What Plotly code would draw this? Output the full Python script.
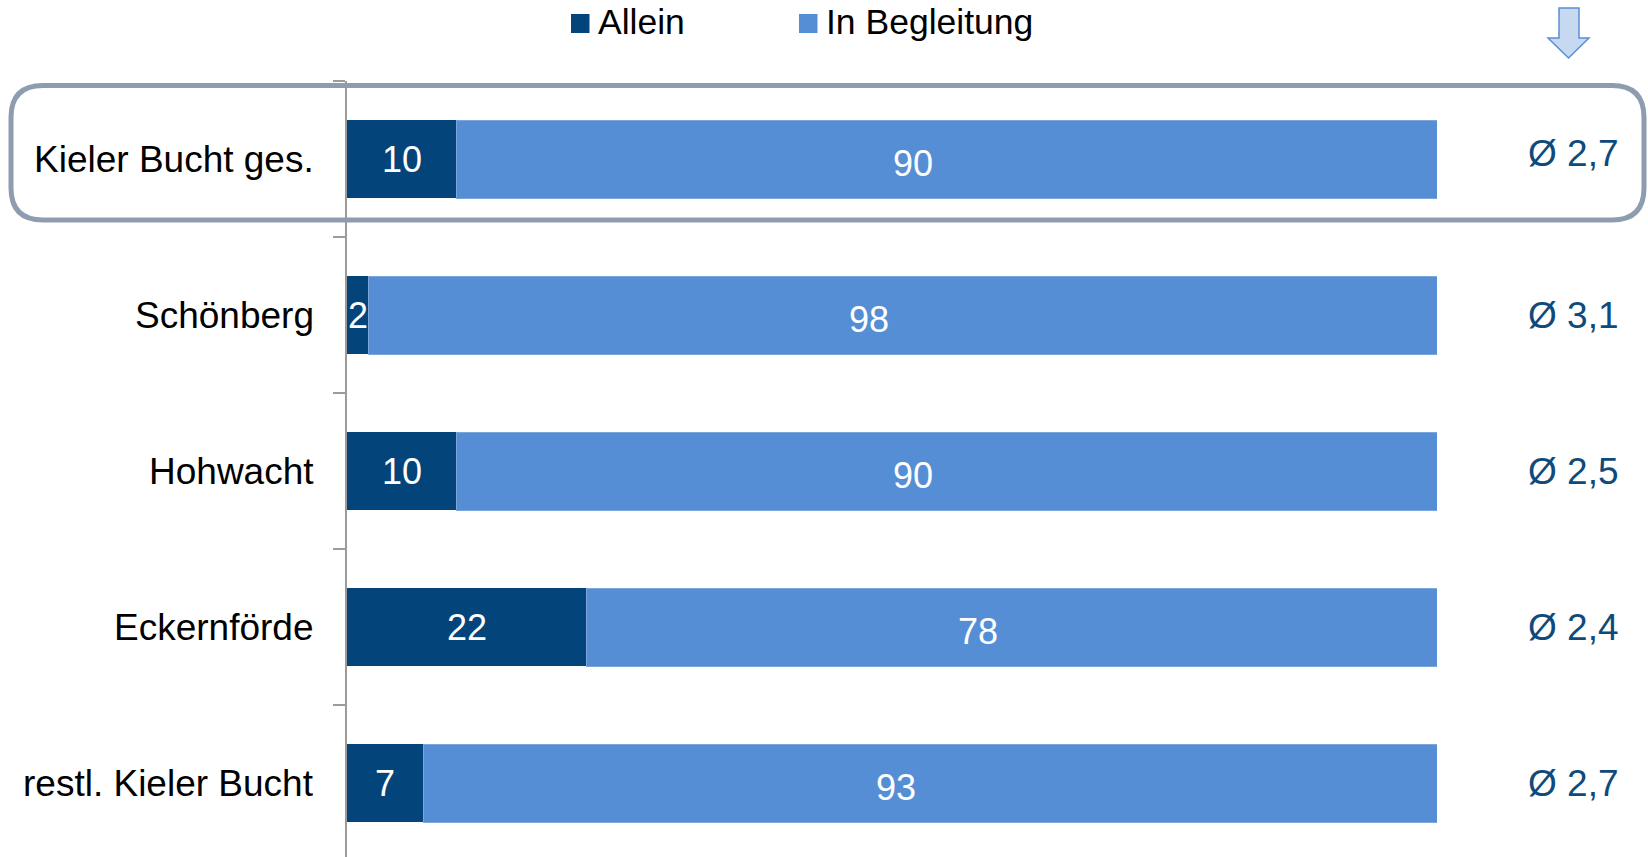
import plotly.graph_objects as go

# ---- data -------------------------------------------------------------
categories = ["Kieler Bucht ges.", "Schönberg", "Hohwacht", "Eckernförde", "restl. Kieler Bucht"]
allein = [10, 2, 10, 22, 7]
begleitung = [90, 98, 90, 78, 93]
avg_persons = [2.7, 3.1, 2.5, 2.4, 2.7]
series_names = ["Allein", "In Begleitung"]

# ---- geometry / style --------------------------------------------------
W, H = 1648, 857
M_L, M_R, M_T, M_B = 347, 211, 81, 0
PLOT_W = W - M_L - M_R
PLOT_H = H - M_T - M_B
ROW_PX = 156

DARK = "#03457A"
LIGHT = "#558ED5"
AXIS_GREY = "#9B9B9B"
BOX_GREY = "#8E9CB0"
AVG_BLUE = "#0E4A7C"
FONT = "Liberation Sans, Arial, sans-serif"


def px_x(px):
    return (px - M_L) / PLOT_W


def px_y(py):
    return 1 - (py - M_T) / PLOT_H


def pt(x, y):
    return f"{px_x(x):.5f},{px_y(y):.5f}"


def rounded_rect(x0, y0, x1, y1, r):
    return (
        f"M{pt(x0 + r, y0)} L{pt(x1 - r, y0)} Q{pt(x1, y0)} {pt(x1, y0 + r)} "
        f"L{pt(x1, y1 - r)} Q{pt(x1, y1)} {pt(x1 - r, y1)} "
        f"L{pt(x0 + r, y1)} Q{pt(x0, y1)} {pt(x0, y1 - r)} "
        f"L{pt(x0, y0 + r)} Q{pt(x0, y0)} {pt(x0 + r, y0)} Z"
    )


def polygon(points):
    first, *rest = points
    return f"M{pt(*first)} " + " ".join(f"L{pt(*p)}" for p in rest) + " Z"


rows = list(range(len(categories)))

fig = go.Figure()
fig.add_bar(
    y=rows, x=allein, orientation="h", name=series_names[0],
    marker=dict(color=DARK, line=dict(width=0)), hoverinfo="x+name",
)
fig.add_bar(
    y=rows, x=begleitung, orientation="h", name=series_names[1],
    marker=dict(color=LIGHT, line=dict(color="#7DA6DD", width=1)), hoverinfo="x+name",
)

annotations = []
for i in rows:
    # category names left of the axis
    annotations.append(dict(
        x=px_x(316), xref="paper", y=i, yref="y", text=categories[i],
        xanchor="right", yanchor="middle", showarrow=False,
        font=dict(family=FONT, size=37, color="black"),
    ))
    # segment values
    annotations.append(dict(
        x=allein[i] / 2, xref="x", y=i, yref="y", text=str(allein[i]),
        xanchor="center", yanchor="middle", showarrow=False,
        font=dict(family=FONT, size=36, color="white"),
    ))
    annotations.append(dict(
        x=allein[i] + begleitung[i] / 2, xref="x", y=i, yref="y", text=str(begleitung[i]),
        xanchor="center", yanchor="middle", showarrow=False, xshift=-34, yshift=-4,
        font=dict(family=FONT, size=36, color="white"),
    ))
    # average group size
    annotations.append(dict(
        x=px_x(1621), xref="paper", y=i, yref="y",
        text="Ø " + f"{avg_persons[i]:.1f}".replace(".", ","),
        xanchor="right", yanchor="middle", showarrow=False,
        yshift=6 if i == 0 else 0,
        font=dict(family=FONT, size=37, color=AVG_BLUE),
    ))

# legend drawn by hand
legend_items = [(series_names[0], DARK, 571), (series_names[1], LIGHT, 799)]
shapes = []
for name, color, lx in legend_items:
    shapes.append(dict(
        type="rect", xref="paper", yref="paper",
        x0=px_x(lx), x1=px_x(lx + 18.5), y0=px_y(14), y1=px_y(33),
        fillcolor=color, line=dict(width=0),
    ))
    annotations.append(dict(
        x=px_x(lx + 25), xref="paper", y=px_y(22), yref="paper", text=name,
        xanchor="left", yanchor="middle", showarrow=False,
        font=dict(family=FONT, size=35.5, color="black"),
    ))

# highlight frame around the total row
shapes.append(dict(
    type="path", xref="paper", yref="paper",
    path=rounded_rect(11, 85.5, 1644, 220, 32),
    line=dict(color=BOX_GREY, width=5), fillcolor="rgba(0,0,0,0)", layer="above",
))

# downward arrow above the averages column
shapes.append(dict(
    type="path", xref="paper", yref="paper",
    path=polygon([(1559, 8), (1579, 8), (1579, 38), (1589, 38),
                  (1568.5, 58), (1548, 38), (1559, 38)]),
    line=dict(color="#5A8FD6", width=1.5), fillcolor="#C6D9F1",
))

fig.update_layout(
    width=W, height=H,
    margin=dict(l=M_L, r=M_R, t=M_T, b=M_B, autoexpand=False),
    barmode="stack", bargap=0.5,
    showlegend=False,
    plot_bgcolor="white", paper_bgcolor="white",
    font=dict(family=FONT),
    annotations=annotations,
    shapes=shapes,
)
fig.update_xaxes(range=[0, 100], visible=False, fixedrange=True)
fig.update_yaxes(
    range=[-0.5 + PLOT_H / ROW_PX, -0.5],
    showline=True, linecolor=AXIS_GREY, linewidth=2,
    tickmode="array", tickvals=[r - 0.5 for r in rows], ticks="outside",
    ticklen=12, tickwidth=2, tickcolor=AXIS_GREY,
    showticklabels=False, showgrid=False, zeroline=False, fixedrange=True,
)

fig.write_html("out.html")
